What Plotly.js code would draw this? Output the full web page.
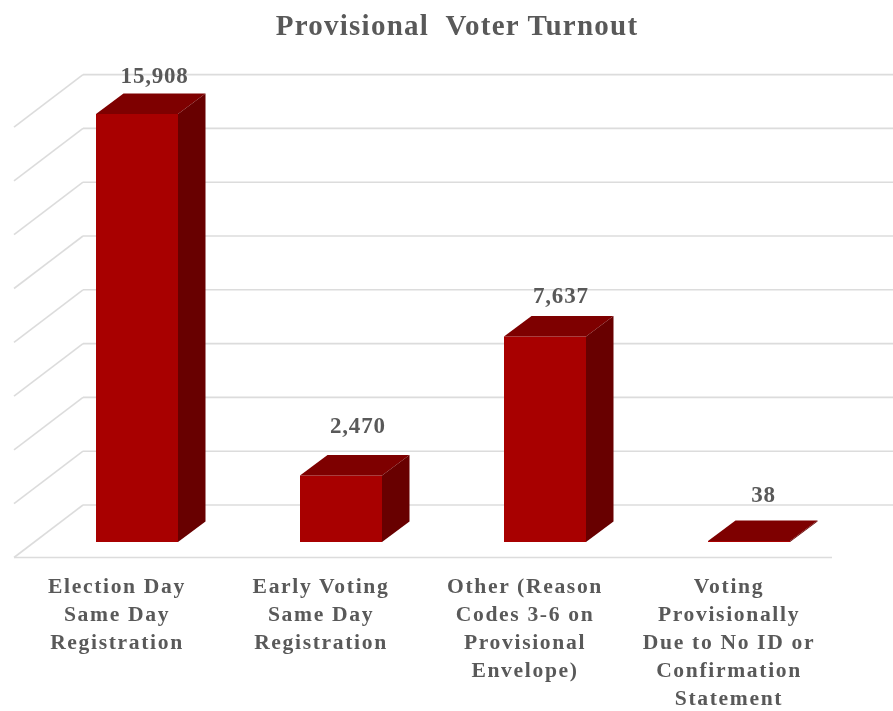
<!DOCTYPE html>
<html>
<head>
<meta charset="utf-8">
<script src="https://cdn.plot.ly/plotly-3.0.1.min.js"></script>
<style>
html,body{margin:0;padding:0;background:#fff}
#chart{width:893px;height:711px;filter:blur(0.45px)}
#chart .gtitle{letter-spacing:1.25px}
#chart .xtick text{letter-spacing:1.65px}
#chart .annotation-text{letter-spacing:0.8px}
</style>
</head>
<body>
<div id="chart"></div>
<script>
var categories = [
  "Election Day<br>Same Day<br>Registration",
  "Early Voting<br>Same Day<br>Registration",
  "Other (Reason<br>Codes 3-6 on<br>Provisional<br>Envelope)",
  "Voting<br>Provisionally<br>Due to No ID or<br>Confirmation<br>Statement"
];
var voters = [15908, 2470, 7637, 38];
var valueLabels = ["15,908", "2,470", "7,637", "38"];
var gridValues = [0, 2000, 4000, 6000, 8000, 10000, 12000, 14000, 16000];
var positions = [0, 1, 2, 3];

// scale: 204 px per category, 0.0269 px per voter
var W = 893, H = 711, plotH = 570, baseY = 542, x0px = 137, pxX = 204, pxY = 0.0269;
var dx = px => px / pxX, dy = px => px / pxY;
var halfW = dx(41), depthX = dx(27.5), depthY = dy(20.5);
var labelShiftY = [18.5, 30, 21, 26];
var labelShiftX = [17, 17, 16, 14];

var FRONT = "#a80000", TOP = "#7e0000", SIDE = "#680000", GRID = "#dcdcdc", TEXT = "#595959";
var FONT = "'Liberation Serif','Times New Roman',serif";

var traces = [{
  type: "bar", x: positions, y: voters, width: 2 * halfW,
  marker: {color: FRONT, line: {width: 0}}, hoverinfo: "skip", showlegend: false
}];
function face(xs, ys, color) {
  traces.push({type: "scatter", mode: "lines", x: xs, y: ys, fill: "toself", fillcolor: color,
    line: {width: 0, color: color}, hoverinfo: "skip", showlegend: false});
}
positions.forEach(function (p, i) {
  var v = voters[i], l = p - halfW, r = p + halfW;
  face([l, r, r + depthX, l + depthX, l], [v, v, v + depthY, v + depthY, v], TOP);
  face([r, r + depthX, r + depthX, r, r], [0, depthY, v + depthY, v, 0], SIDE);
});

var backX0 = dx(83 - x0px), backX1 = dx(W - x0px), frontX0 = dx(14 - x0px), frontX1 = dx(832 - x0px);
var backOff = dy(37), frontOff = dy(-15.5);
var shapes = [];
function gl(xa, ya, xb, yb) {
  shapes.push({type: "line", layer: "below", xref: "x", yref: "y", x0: xa, y0: ya, x1: xb, y1: yb,
    line: {color: GRID, width: 1.6}});
}
gridValues.forEach(function (v) {
  gl(backX0, v + backOff, backX1, v + backOff);
  gl(frontX0, v + frontOff, backX0, v + backOff);
});
gl(frontX0, frontOff, frontX1, frontOff);

var annotations = positions.map(function (p, i) {
  return {x: p, y: voters[i] + depthY, xref: "x", yref: "y", text: "<b>" + valueLabels[i] + "</b>",
    showarrow: false, xshift: labelShiftX[i], yshift: labelShiftY[i], xanchor: "center", yanchor: "middle",
    font: {family: FONT, size: 23, color: TEXT}};
});

Plotly.newPlot("chart", traces, {
  width: W, height: H, showlegend: false, paper_bgcolor: "#fff", plot_bgcolor: "rgba(0,0,0,0)",
  margin: {l: 0, r: 0, t: 0, b: H - plotH, pad: 0},
  title: {text: "<b>Provisional  Voter Turnout</b>", x: 457 / W, xanchor: "center", y: 1 - 25 / H, yanchor: "middle",
    yref: "container", font: {family: FONT, size: 29, color: TEXT}},
  xaxis: {range: [-x0px / pxX, (W - x0px) / pxX], tickmode: "array", tickvals: positions,
    ticktext: categories.map(c => "<b>" + c.split("<br>").join("</b><br><b>") + "</b>"), tickangle: 0, ticklen: 0, ticklabelshift: -20,
    showgrid: false, zeroline: false, showline: false, fixedrange: true,
    tickfont: {family: FONT, size: 21.6, color: TEXT}},
  yaxis: {range: [-(plotH - baseY) / pxY, baseY / pxY], showticklabels: false, ticks: "", showgrid: false,
    zeroline: false, showline: false, fixedrange: true},
  shapes: shapes, annotations: annotations
}, {displayModeBar: false, staticPlot: true});
</script>
</body>
</html>
